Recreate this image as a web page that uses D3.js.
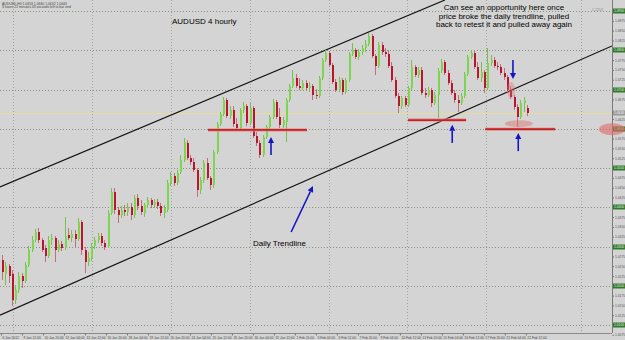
<!DOCTYPE html>
<html>
<head>
<meta charset="utf-8">
<script src="https://cdn.jsdelivr.net/npm/d3@7"></script>
<style>
  html, body { margin: 0; padding: 0; background: #d4d4d4; }
  svg { display: block; }
</style>
</head>
<body>
<div id="chart_div"></div>
<script>
// AUDUSD H4 candles (oldest first)
var opens = [
  1.0266,1.0230,1.0250,1.0230,1.0164,1.0189,1.0225,1.0212,1.0253,1.0291,
  1.0316,1.0337,1.0316,1.0296,1.0276,1.0316,1.0322,1.0291,1.0306,1.0296,
  1.0329,1.0322,1.0332,1.0319,1.0362,1.0291,1.0260,1.0271,1.0301,1.0316,
  1.0327,1.0309,1.0301,1.0385,1.0439,1.0393,1.0380,1.0393,1.0388,1.0401,
  1.0380,1.0424,1.0403,1.0385,1.0406,1.0418,1.0406,1.0413,1.0403,1.0385,
  1.0393,1.0462,1.0480,1.0462,1.0490,1.0520,1.0564,1.0525,1.0515,1.0495,
  1.0444,1.0469,1.0513,1.0474,1.0457,1.0541,1.0612,1.0638,1.0673,1.0632,
  1.0648,1.0612,1.0602,1.0648,1.0658,1.0615,1.0653,1.0581,1.0564,1.0533,
  1.0579,1.0604,1.0630,1.0668,1.0630,1.0610,1.0617,1.0673,1.0709,1.0729,
  1.0709,1.0704,1.0717,1.0704,1.0709,1.0686,1.0683,1.0729,1.0775,1.0793,
  1.0762,1.0719,1.0699,1.0724,1.0694,1.0724,1.0790,1.0801,1.0783,1.0796,
  1.0806,1.0816,1.0836,1.0785,1.0760,1.0813,1.0796,1.0790,1.0760,1.0724,
  1.0683,1.0658,1.0678,1.0660,1.0704,1.0757,1.0737,1.0750,1.0691,1.0686,
  1.0699,1.0666,1.0686,1.0747,1.0770,1.0742,1.0717,1.0691,1.0673,1.0666,
  1.0683,1.0739,1.0783,1.0793,1.0757,1.0729,1.0744,1.0704,1.0767,1.0775,
  1.0760,1.0757,1.0742,1.0732,1.0699,1.0681,1.0655,1.0630,1.0666,1.0653
];
var highs = [
  1.0278,1.0260,1.0255,1.0240,1.0202,1.0235,1.0232,1.0260,1.0301,1.0327,
  1.0345,1.0347,1.0322,1.0304,1.0327,1.0332,1.0327,1.0316,1.0314,1.0375,
  1.0347,1.0342,1.0342,1.0373,1.0367,1.0299,1.0286,1.0309,1.0324,1.0334,
  1.0334,1.0316,1.0393,1.0449,1.0449,1.0401,1.0403,1.0406,1.0411,1.0411,
  1.0431,1.0434,1.0418,1.0411,1.0426,1.0424,1.0421,1.0421,1.0411,1.0406,
  1.0469,1.0490,1.0487,1.0495,1.0533,1.0576,1.0571,1.0533,1.0525,1.0500,
  1.0477,1.0520,1.0525,1.0480,1.0546,1.0617,1.0643,1.0681,1.0678,1.0658,
  1.0658,1.0627,1.0653,1.0668,1.0663,1.0666,1.0658,1.0592,1.0571,1.0584,
  1.0609,1.0635,1.0676,1.0673,1.0653,1.0630,1.0678,1.0714,1.0750,1.0739,
  1.0729,1.0724,1.0724,1.0719,1.0714,1.0701,1.0734,1.0780,1.0801,1.0798,
  1.0767,1.0727,1.0732,1.0729,1.0729,1.0796,1.0818,1.0806,1.0803,1.0813,
  1.0826,1.0844,1.0841,1.0790,1.0821,1.0821,1.0806,1.0801,1.0770,1.0732,
  1.0691,1.0683,1.0683,1.0709,1.0775,1.0762,1.0757,1.0757,1.0704,1.0706,
  1.0704,1.0694,1.0755,1.0778,1.0775,1.0750,1.0724,1.0699,1.0686,1.0691,
  1.0744,1.0788,1.0801,1.0798,1.0770,1.0770,1.0750,1.0806,1.0788,1.0783,
  1.0770,1.0765,1.0755,1.0737,1.0709,1.0686,1.0663,1.0673,1.0681,1.0660
];
var lows = [
  1.0215,1.0202,1.0207,1.0148,1.0153,1.0182,1.0194,1.0207,1.0248,1.0286,
  1.0311,1.0309,1.0286,1.0260,1.0271,1.0304,1.0260,1.0286,1.0288,1.0291,
  1.0316,1.0311,1.0299,1.0314,1.0278,1.0232,1.0250,1.0263,1.0294,1.0309,
  1.0301,1.0291,1.0296,1.0380,1.0383,1.0360,1.0373,1.0378,1.0378,1.0367,
  1.0373,1.0393,1.0380,1.0375,1.0398,1.0398,1.0398,1.0396,1.0378,1.0373,
  1.0388,1.0454,1.0454,1.0457,1.0485,1.0515,1.0520,1.0508,1.0490,1.0426,
  1.0434,1.0462,1.0469,1.0444,1.0449,1.0536,1.0607,1.0632,1.0627,1.0625,
  1.0604,1.0597,1.0599,1.0640,1.0607,1.0609,1.0576,1.0556,1.0525,1.0528,
  1.0574,1.0599,1.0625,1.0625,1.0602,1.0602,1.0566,1.0668,1.0704,1.0704,
  1.0699,1.0699,1.0696,1.0694,1.0673,1.0676,1.0678,1.0724,1.0770,1.0757,
  1.0714,1.0694,1.0694,1.0686,1.0688,1.0719,1.0785,1.0778,1.0775,1.0788,
  1.0796,1.0811,1.0780,1.0737,1.0755,1.0788,1.0783,1.0755,1.0719,1.0678,
  1.0640,1.0650,1.0655,1.0655,1.0699,1.0732,1.0729,1.0686,1.0678,1.0681,
  1.0655,1.0660,1.0627,1.0742,1.0737,1.0711,1.0686,1.0666,1.0643,1.0660,
  1.0678,1.0734,1.0778,1.0752,1.0724,1.0719,1.0691,1.0699,1.0760,1.0755,
  1.0750,1.0737,1.0724,1.0694,1.0676,1.0648,1.0604,1.0625,1.0643,1.0632
];
var closes = [
  1.0235,1.0250,1.0225,1.0164,1.0189,1.0225,1.0212,1.0253,1.0291,1.0316,
  1.0337,1.0316,1.0291,1.0276,1.0316,1.0322,1.0291,1.0306,1.0296,1.0327,
  1.0322,1.0332,1.0319,1.0362,1.0291,1.0260,1.0271,1.0301,1.0316,1.0327,
  1.0309,1.0299,1.0385,1.0439,1.0393,1.0380,1.0393,1.0388,1.0401,1.0380,
  1.0424,1.0403,1.0388,1.0406,1.0418,1.0406,1.0413,1.0403,1.0385,1.0398,
  1.0462,1.0480,1.0462,1.0487,1.0520,1.0566,1.0525,1.0515,1.0495,1.0444,
  1.0469,1.0513,1.0474,1.0457,1.0541,1.0612,1.0638,1.0673,1.0632,1.0648,
  1.0612,1.0602,1.0648,1.0658,1.0615,1.0653,1.0581,1.0564,1.0533,1.0579,
  1.0604,1.0630,1.0668,1.0630,1.0610,1.0622,1.0673,1.0709,1.0729,1.0709,
  1.0704,1.0717,1.0704,1.0709,1.0686,1.0683,1.0729,1.0775,1.0793,1.0762,
  1.0719,1.0699,1.0724,1.0694,1.0724,1.0790,1.0801,1.0783,1.0796,1.0806,
  1.0816,1.0836,1.0785,1.0760,1.0813,1.0796,1.0790,1.0760,1.0724,1.0683,
  1.0658,1.0678,1.0660,1.0704,1.0757,1.0737,1.0750,1.0691,1.0686,1.0699,
  1.0666,1.0686,1.0747,1.0770,1.0742,1.0717,1.0691,1.0673,1.0666,1.0683,
  1.0739,1.0783,1.0793,1.0757,1.0729,1.0744,1.0704,1.0767,1.0775,1.0760,
  1.0757,1.0742,1.0732,1.0699,1.0681,1.0655,1.0630,1.0666,1.0673,1.0640
];

var timeLabels = ['6 Jan 2012', '9 Jan 12:00', '10 Jan 20:00', '12 Jan 04:00', '13 Jan 12:00',
  '16 Jan 20:00', '18 Jan 04:00', '19 Jan 12:00', '20 Jan 20:00', '24 Jan 04:00', '25 Jan 12:00',
  '26 Jan 20:00', '30 Jan 04:00', '31 Jan 12:00', '1 Feb 20:00', '3 Feb 04:00', '6 Feb 12:00',
  '7 Feb 20:00', '9 Feb 04:00', '10 Feb 12:00', '13 Feb 20:00', '15 Feb 04:00', '16 Feb 12:00',
  '17 Feb 20:00', '21 Feb 04:00', '22 Feb 12:00'];

var priceTicks = [1.0075, 1.0125, 1.0150, 1.0175, 1.0225, 1.0250, 1.0275, 1.0325, 1.0350, 1.0375,
  1.0425, 1.0450, 1.0475, 1.0525, 1.0550, 1.0575, 1.0625, 1.0675, 1.0725, 1.0750,
  1.0775, 1.0825, 1.0850, 1.0875];
var gridLevels = [1.0100, 1.0200, 1.0300, 1.0400, 1.0500, 1.0600, 1.0700, 1.0800, 1.0900];
var gridBars = [3.3, 27.3, 51.2, 75.2, 99.1, 122.7, 146.7, 175.5];
var bidPrice = 1.0640;

// drawn objects, in (bar, price)
var channelLines = [
  [{bar: -0.6, price: 1.0452}, {bar: 134.2, price: 1.0928}],
  [{bar: -0.6, price: 1.0125}, {bar: 184.8, price: 1.0811}]
];
var supportLines = [
  {from: 62.4, to: 92.4, price: 1.0597},
  {from: 123.0, to: 140.6, price: 1.0622},
  {from: 146.4, to: 167.6, price: 1.0599}
];
var arrows = [
  {bar0: 81.5, p0: 1.0533, bar1: 81.5, p1: 1.0579},
  {bar0: 87.6, p0: 1.0337, bar1: 94.2, p1: 1.0454},
  {bar0: 136.4, p0: 1.0564, bar1: 136.4, p1: 1.0610},
  {bar0: 154.8, p0: 1.0775, bar1: 154.8, p1: 1.0727},
  {bar0: 156.4, p0: 1.0543, bar1: 156.4, p1: 1.0589}
];
var highlights = [
  {bar: 154.2, price: 1.0699},
  {bar: 156.6, price: 1.0613},
  {bar: 184.8, price: 1.0599}
];

function chart() {
    var width = 625;
    var height = 340;
    var plot_right = 612;
    var plot_bottom = 333;
    var label_step = 6.36;
    var font = 'Liberation Sans, Arial, sans-serif';

    var x = d3.scaleLinear().domain([-0.6, 184.8]).range([0, plot_right]);
    var y = d3.scaleLinear().domain([1.0100, 1.0900]).range([325, 11]);

    var svg = d3.select('#chart_div')
        .append('svg')
        .attr('width', width)
        .attr('height', height);

    svg.append('rect')
        .attr('width', width)
        .attr('height', height)
        .attr('fill', '#d4d4d4');

    svg.append('clipPath').attr('id', 'plot_clip')
        .append('rect')
        .attr('width', plot_right)
        .attr('height', plot_bottom);

    var plot = svg.append('g').attr('clip-path', 'url(#plot_clip)');

    // grid
    plot.selectAll('.vgrid').data(gridBars).enter()
        .append('line')
        .attr('x1', function(d) { return Math.round(x(d)) + 0.5; })
        .attr('x2', function(d) { return Math.round(x(d)) + 0.5; })
        .attr('y1', 0).attr('y2', plot_bottom)
        .attr('stroke', '#a3a3a3')
        .attr('stroke-dasharray', '1,2');

    plot.selectAll('.hgrid').data(gridLevels).enter()
        .append('line')
        .attr('x1', 0).attr('x2', plot_right)
        .attr('y1', function(d) { return Math.round(y(d)) + 0.5; })
        .attr('y2', function(d) { return Math.round(y(d)) + 0.5; })
        .attr('stroke', '#84947a')
        .attr('stroke-dasharray', '1,2');

    // bid line
    plot.append('line')
        .attr('x1', 0).attr('x2', plot_right)
        .attr('y1', Math.round(y(bidPrice)) + 0.5)
        .attr('y2', Math.round(y(bidPrice)) + 0.5)
        .attr('stroke', '#e6dc9c');

    // channel
    plot.selectAll('.channel').data(channelLines).enter()
        .append('line')
        .attr('x1', function(d) { return x(d[0].bar); })
        .attr('y1', function(d) { return y(d[0].price); })
        .attr('x2', function(d) { return x(d[1].bar); })
        .attr('y2', function(d) { return y(d[1].price); })
        .attr('stroke', '#111')
        .attr('stroke-width', 1.2);

    // candles
    var candles = opens.map(function(o, i) {
        return {i: i, o: o, h: highs[i], l: lows[i], c: closes[i]};
    });

    var cg = plot.append('g').attr('shape-rendering', 'crispEdges');
    cg.selectAll('.wick').data(candles).enter()
        .append('line')
        .attr('x1', function(d) { return Math.round(x(d.i)) + 0.5; })
        .attr('x2', function(d) { return Math.round(x(d.i)) + 0.5; })
        .attr('y1', function(d) { return y(d.h); })
        .attr('y2', function(d) { return y(d.l); })
        .attr('stroke', function(d) { return d.c >= d.o ? '#74c24a' : '#c46e7c'; });

    cg.selectAll('.body').data(candles).enter()
        .append('rect')
        .attr('x', function(d) { return Math.round(x(d.i)) - 0.5; })
        .attr('width', 2)
        .attr('y', function(d) { return y(Math.max(d.o, d.c)); })
        .attr('height', function(d) { return Math.max(1, Math.abs(y(d.o) - y(d.c))); })
        .attr('fill', function(d) { return d.c >= d.o ? '#7ed650' : '#b8162e'; });

    // support lines
    supportLines.forEach(function(s) {
        plot.append('line')
            .attr('x1', x(s.from)).attr('x2', x(s.to))
            .attr('y1', y(s.price)).attr('y2', y(s.price))
            .attr('stroke', '#e58a8a')
            .attr('stroke-width', 3.5)
            .attr('opacity', 0.7);
        plot.append('line')
            .attr('x1', x(s.from)).attr('x2', x(s.to))
            .attr('y1', y(s.price)).attr('y2', y(s.price))
            .attr('stroke', '#c42222')
            .attr('stroke-width', 1.8);
    });

    // pink highlights
    var hl_size = [[4, 8, 0.35], [14, 3.5, 0.45]];
    highlights.slice(0, 2).forEach(function(h, k) {
        plot.append('ellipse')
            .attr('cx', x(h.bar)).attr('cy', y(h.price))
            .attr('rx', hl_size[k][0]).attr('ry', hl_size[k][1])
            .attr('fill', '#e06a6a')
            .attr('opacity', hl_size[k][2]);
    });

    // arrows
    arrows.forEach(function(a) {
        var x0 = x(a.bar0), y0 = y(a.p0), x1 = x(a.bar1), y1 = y(a.p1);
        var dx = x1 - x0, dy = y1 - y0, len = Math.sqrt(dx * dx + dy * dy);
        var ux = dx / len, uy = dy / len;
        var hl = 6, hw = 3;
        var bx = x1 - ux * hl, by = y1 - uy * hl;
        plot.append('line')
            .attr('x1', x0).attr('y1', y0).attr('x2', bx).attr('y2', by)
            .attr('stroke', '#1414c8')
            .attr('stroke-width', 1.6);
        plot.append('path')
            .attr('d', 'M' + x1 + ',' + y1 +
                'L' + (bx - uy * hw) + ',' + (by + ux * hw) +
                'L' + (bx + uy * hw) + ',' + (by - ux * hw) + 'Z')
            .attr('fill', '#1414c8');
    });

    // axes
    svg.append('line')
        .attr('x1', plot_right + 0.5).attr('x2', plot_right + 0.5)
        .attr('y1', 0).attr('y2', plot_bottom)
        .attr('stroke', '#7a7a7a');
    svg.append('line')
        .attr('x1', 0).attr('x2', plot_right)
        .attr('y1', plot_bottom + 0.5).attr('y2', plot_bottom + 0.5)
        .attr('stroke', '#8a8a8a');

    var yAxis = d3.axisRight(y)
        .tickValues(priceTicks)
        .tickSize(1.5)
        .tickFormat(d3.format('.4f'));
    var ya = svg.append('g')
        .attr('transform', 'translate(' + (plot_right + 0.5) + ',0)')
        .call(yAxis);
    ya.select('.domain').remove();
    ya.selectAll('line').attr('stroke', '#777');
    ya.selectAll('text')
        .attr('x', 2.5)
        .style('font-size', '3.3px')
        .style('font-family', font)
        .attr('fill', '#555');

    var xAxis = d3.axisBottom(x)
        .tickValues(timeLabels.map(function(d, i) { return i * label_step - 0.3; }))
        .tickSize(2)
        .tickFormat(function(d, i) { return timeLabels[i]; });
    var xa = svg.append('g')
        .attr('transform', 'translate(0,' + (plot_bottom + 0.5) + ')')
        .call(xAxis);
    xa.select('.domain').remove();
    xa.selectAll('line').attr('stroke', '#777');
    xa.selectAll('text')
        .attr('y', 2.8)
        .attr('dy', '0.7em')
        .attr('text-anchor', 'start')
        .attr('dx', 1)
        .style('font-size', '3.3px')
        .style('font-family', font)
        .attr('fill', '#444');

    // green level boxes on price scale
    var boxes = svg.selectAll('.lvl').data(gridLevels).enter().append('g')
        .attr('transform', function(d) { return 'translate(' + (plot_right + 1) + ',' + Math.round(y(d)) + ')'; });
    boxes.append('rect')
        .attr('x', 0).attr('y', -2.5).attr('width', 12).attr('height', 5)
        .attr('fill', '#2f7a2a');
    boxes.append('text')
        .attr('x', 1).attr('y', 1.2)
        .text(function(d) { return d3.format('.4f')(d); })
        .style('font-size', '3.3px')
        .style('font-family', font)
        .attr('fill', '#e4f2e0');

    var bid = svg.append('g')
        .attr('transform', 'translate(' + (plot_right + 1) + ',' + Math.round(y(bidPrice)) + ')');
    bid.append('rect')
        .attr('x', 0).attr('y', -2.5).attr('width', 12).attr('height', 5)
        .attr('fill', '#9a9a9a');
    bid.append('text')
        .attr('x', 1).attr('y', 1.2)
        .text(d3.format('.4f')(bidPrice))
        .style('font-size', '3.3px')
        .style('font-family', font)
        .attr('fill', '#f4f4f4');

    var axisMark = highlights[2];
    svg.append('ellipse')
        .attr('cx', x(axisMark.bar)).attr('cy', y(axisMark.price))
        .attr('rx', 13).attr('ry', 6)
        .attr('fill', '#e06868')
        .attr('opacity', 0.6);

    // header
    var last = opens.length - 1;
    svg.append('text')
        .attr('x', 2).attr('y', 4.5)
        .text('AUDUSD,H4  ' + [opens[last], highs[last], lows[last], closes[last]].map(d3.format('.4f')).join(' '))
        .style('font-size', '3.4px').style('font-family', font).attr('fill', '#444');
    svg.append('text')
        .attr('x', 2).attr('y', 8.2)
        .text('3 hours 22 minutes 43 seconds left to bar end')
        .style('font-size', '3.4px').style('font-family', font).attr('fill', '#444');
    svg.append('text')
        .attr('x', 592).attr('y', 10.5)
        .text('1.2253')
        .style('font-size', '3.6px').style('font-family', font).attr('fill', '#8a8a8a');

    // annotations
    svg.append('text')
        .attr('x', 172).attr('y', 24)
        .text('AUDUSD 4 hourly')
        .style('font-size', '8px').style('font-family', font).attr('fill', '#000');

    var note = ['Can see an opportunity here once',
                'price broke the daily trendline, pulled',
                'back to retest it and pulled away again'];
    note.forEach(function(t, k) {
        svg.append('text')
            .attr('x', 504).attr('y', 10.2 + k * 8.6)
            .attr('text-anchor', 'middle')
            .text(t)
            .style('font-size', '8px').style('font-family', font).attr('fill', '#000');
    });

    svg.append('text')
        .attr('x', 253).attr('y', 246)
        .text('Daily Trendline')
        .style('font-size', '8px').style('font-family', font).attr('fill', '#000');
}

chart();
</script>
</body>
</html>
